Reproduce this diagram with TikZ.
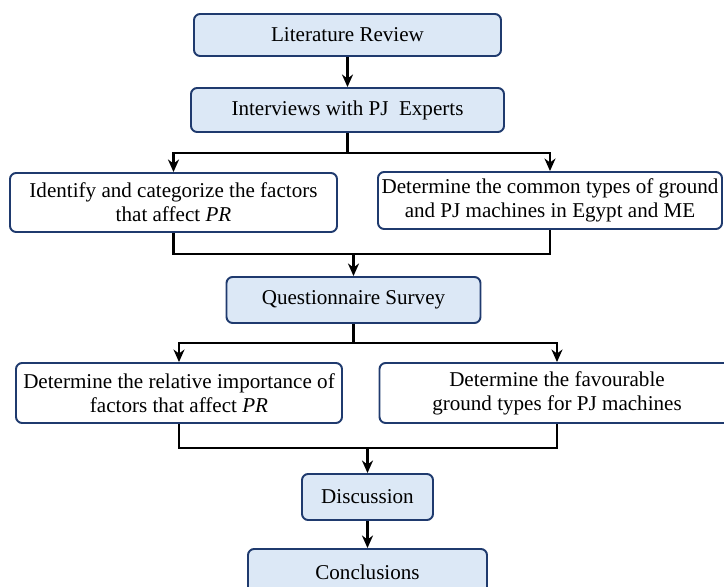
\documentclass[tikz,border=0pt]{standalone}
\usepackage{fontspec}
\setmainfont{Liberation Serif}
\usepackage{tikz}
\usetikzlibrary{arrows.meta}

\definecolor{boxline}{RGB}{31,58,110}
\definecolor{boxfill}{RGB}{220,232,246}

\begin{document}
\begin{tikzpicture}[
    x=1cm, y=1cm,
    stage/.style={draw=boxline, line width=1.1pt, rounded corners=3.5pt, align=center, inner sep=1pt,
        font=\fontsize{12}{13.6}\selectfont},
    mainstep/.style={stage, fill=boxfill},
    substep/.style={stage, fill=white},
    link/.style={line width=1.3pt, black},
    arr/.style={link, -{Stealth[length=2.5mm, width=2.2mm, inset=0.8mm]}}
]
\clip (0,0) rectangle (14.48, 11.74);

% --- Main stages ---
\node[mainstep, minimum width=6.14cm, minimum height=0.84cm] (lit) at (6.95, 11.04) {Literature Review};
\node[mainstep, minimum width=6.26cm, minimum height=0.88cm] (intv) at (6.95, 9.54) {Interviews with PJ~ Experts};

% Sub-steps after interviews
\node[substep, minimum width=6.54cm, minimum height=1.18cm] (fact) at (3.47, 7.69)
    {Identify and categorize the factors\\that affect \textit{PR}};
\node[substep, minimum width=6.88cm, minimum height=1.14cm] (types) at (11.0, 7.73)
    {Determine the common types of ground\\and PJ machines in Egypt and ME};

\node[mainstep, minimum width=5.08cm, minimum height=0.92cm] (quest) at (7.07, 5.74) {Questionnaire Survey};

% Sub-steps after questionnaire
\node[substep, minimum width=6.52cm, minimum height=1.2cm] (imp) at (3.58, 3.88)
    {Determine the relative importance of\\factors that affect \textit{PR}};
\node[substep, minimum width=7.1cm, minimum height=1.2cm] (fav) at (11.14, 3.88)
    {Determine the favourable\\ground types for PJ machines};

\node[mainstep, minimum width=2.62cm, minimum height=0.92cm] (disc) at (7.35, 1.80) {Discussion};
\node[mainstep, minimum width=4.78cm, minimum height=0.92cm] (concl) at (7.35, 0.30) {Conclusions};

% --- Connectors ---
\coordinate (split1) at (6.95, 8.68);
\coordinate (merge1) at (7.07, 6.66);
\coordinate (split2) at (7.07, 4.88);
\coordinate (merge2) at (7.35, 2.78);

\draw[arr] (lit) -- (intv);
\draw[link] (intv.south) -- (split1);
\draw[arr] (split1) -| (fact.north);
\draw[arr] (split1) -| (types.north);

\draw[link] (fact.south) |- (merge1);
\draw[link] (types.south) |- (merge1);
\draw[arr] (merge1) -- (quest.north);

\draw[link] (quest.south) -- (split2);
\draw[arr] (split2) -| (imp.north);
\draw[arr] (split2) -| (fav.north);

\draw[link] (imp.south) |- (merge2);
\draw[link] (fav.south) |- (merge2);
\draw[arr] (merge2) -- (disc.north);
\draw[arr] (disc) -- (concl);

\end{tikzpicture}
\end{document}
